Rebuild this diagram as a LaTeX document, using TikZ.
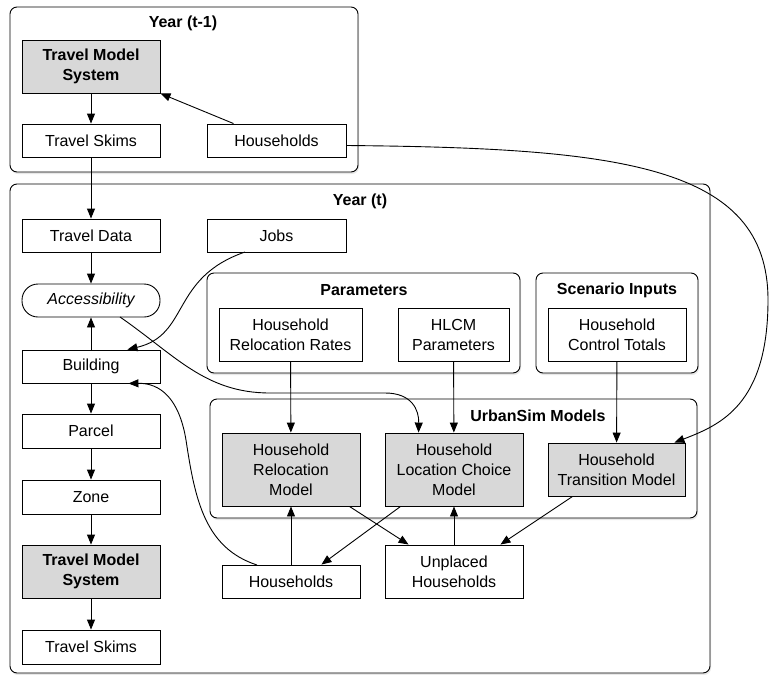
\documentclass[tikz,border=0pt]{standalone}
\usepackage{fontspec}
\setmainfont{Liberation Sans}
\usetikzlibrary{arrows.meta,fit,shadows,positioning}

\begin{document}
\begin{tikzpicture}[x=1pt, y=-1pt, >={Triangle[length=10pt,width=8pt]}, line width=0.9pt]
		\definecolor{mgray}{RGB}{216,216,216}
		\tikzset{
			group/.style={draw, rounded corners=7pt, inner sep=0pt, fill=white,
				drop shadow={opacity=0.18, shadow xshift=1pt, shadow yshift=-2pt}},
			box/.style={draw, inner sep=0pt, fill=white},
			gbox/.style={box, fill=mgray},
			ttl/.style={font=\bfseries, anchor=center},
			ml/.style={label={[align=center]center:{#1}}}
		}
		\fontsize{16}{20}\selectfont
		\useasboundingbox (0,0) rectangle (769,675);

		% Year (t-1)
		\node[group, fit={(10,7) (358,172)}] (yprev) {};
		\node[ttl] (yprevttl) at (183,23) {Year (t-1)};
		\node[gbox, fit={(22,40) (160,93)},
			ml={\bfseries Travel Model\\\bfseries System}
			] (tmsA) {};
		\node[box, fit={(22,124) (160,157)},
			label=center:{Travel Skims}
			] (skimsA) {};
		\node[box, fit={(207,124) (346,157)},
			label=center:{Households}
			] (hhA) {};

		% Year (t)
		\node[group, fit={(10,184) (710,673)}] (ycur) {};
		\node[ttl] (ycurttl) at (360,201) {Year (t)};

		% Parameters
		\node[group, fit={(207,273) (520,373)}] (par) {};
		\node[ttl] (parttl) at (364,290) {Parameters};
		\node[box, fit={(219,308) (362,361)},
			ml={Household\\Relocation Rates}
			] (hrr) {};
		\node[box, fit={(398,308) (509,361)},
			ml={HLCM\\Parameters}
			] (hlcmp) {};

		% Scenario inputs
		\node[group, fit={(536,273) (698,373)}] (scen) {};
		\node[ttl] (scenttl) at (617,290) {Scenario Inputs};
		\node[box, fit={(548,308) (686,361)},
			ml={Household\\Control Totals}
			] (hct) {};

		% UrbanSim models
		\node[group, fit={(210,399) (697,518)}] (urb) {};
		\node[ttl] (urbttl) at (538,416) {UrbanSim Models};
		\node[gbox, fit={(222,433) (360,506)},
			ml={Household\\Relocation\\Model}
			] (hrm) {};
		\node[gbox, fit={(385,433) (523,506)},
			ml={Household\\Location Choice\\Model}
			] (hlcm) {};
		\node[gbox, fit={(548,443) (685,496)},
			ml={Household\\Transition Model}
			] (htm) {};

		% left column
		\node[box, fit={(22,219) (160,252)},
			label=center:{Travel Data}
			] (tdata) {};
		\node[box, fit={(207,219) (346,252)},
			label=center:{Jobs}
			] (jobs) {};
		\node[box, rounded corners=16pt, fit={(22,284) (160,317)},
			label=center:{\itshape Accessibility}
			] (acc) {};
		\node[box, fit={(22,350) (160,383)},
			label=center:{Building}
			] (bldg) {};
		\node[box, fit={(22,414) (160,448)},
			label=center:{Parcel}
			] (parcel) {};
		\node[box, fit={(22,480) (160,514)},
			label=center:{Zone}
			] (zone) {};
		\node[gbox, fit={(22,545) (160,598)},
			ml={\bfseries Travel Model\\\bfseries System}
			] (tmsB) {};
		\node[box, fit={(22,630) (160,664)},
			label=center:{Travel Skims}
			] (skimsB) {};

		% households
		\node[box, fit={(222,565) (360,598)},
			label=center:{Households}
			] (hhB) {};
		\node[box, fit={(385,545) (523,598)},
			ml={Unplaced\\Households}
			] (unpl) {};

		% Edges
		\coordinate (acc-a) at (120,317);
		\coordinate (jobs-a) at (245,252);
		\coordinate (hhB-a) at (257,565);
		\draw[->] (tmsA) -- (skimsA);
		\draw[->] ([xshift=27pt]hhA.north west) -- (tmsA.south east);
		\draw[->] (skimsA) -- (tdata);
		\draw[->] (tdata) -- (acc);
		\draw[->] (bldg) -- (acc);
		\draw[->] (bldg) -- (parcel);
		\draw[->] (parcel) -- (zone);
		\draw[->] (zone) -- (tmsB);
		\draw[->] (tmsB) -- (skimsB);
		\draw[->] (jobs-a) .. controls (170,278) and (190,335) .. ([xshift=-33pt]bldg.north east);
		\draw[->] (acc-a) .. controls (175,355) and (205,393) .. (270,393)
			-- (385,393) .. controls (412,393) and (419,410) .. ([xshift=34pt]hlcm.north west);
		\draw[->] (hhB-a) .. controls (205,548) and (195,500) .. (186,440)
			.. controls (179,398) and (160,383) .. ([xshift=-32pt]bldg.south east);
		\draw[->] ([yshift=-5pt]hhA.east) .. controls (620,148) and (768,165) .. (768,300)
			.. controls (768,405) and (720,425) .. ([xshift=-11pt]htm.north east);
		\draw[->] (hrr) -- (hrm);
		\draw[->] (hlcmp) -- (hlcm);
		\draw[->] (hct) -- (htm);
		\draw[->] (hhB.north -| hrm) -- (hrm);
		\draw[->] (unpl) -- (hlcm);
		\draw[->] ([xshift=-11pt]hrm.south east) -- ([xshift=24pt]unpl.north west);
		\draw[->] ([xshift=16pt]hlcm.south west) -- ([xshift=-39pt]hhB.north east);
		\draw[->] ([xshift=25pt]htm.south west) -- ([xshift=-23pt]unpl.north east);
	\end{tikzpicture}
\end{document}
